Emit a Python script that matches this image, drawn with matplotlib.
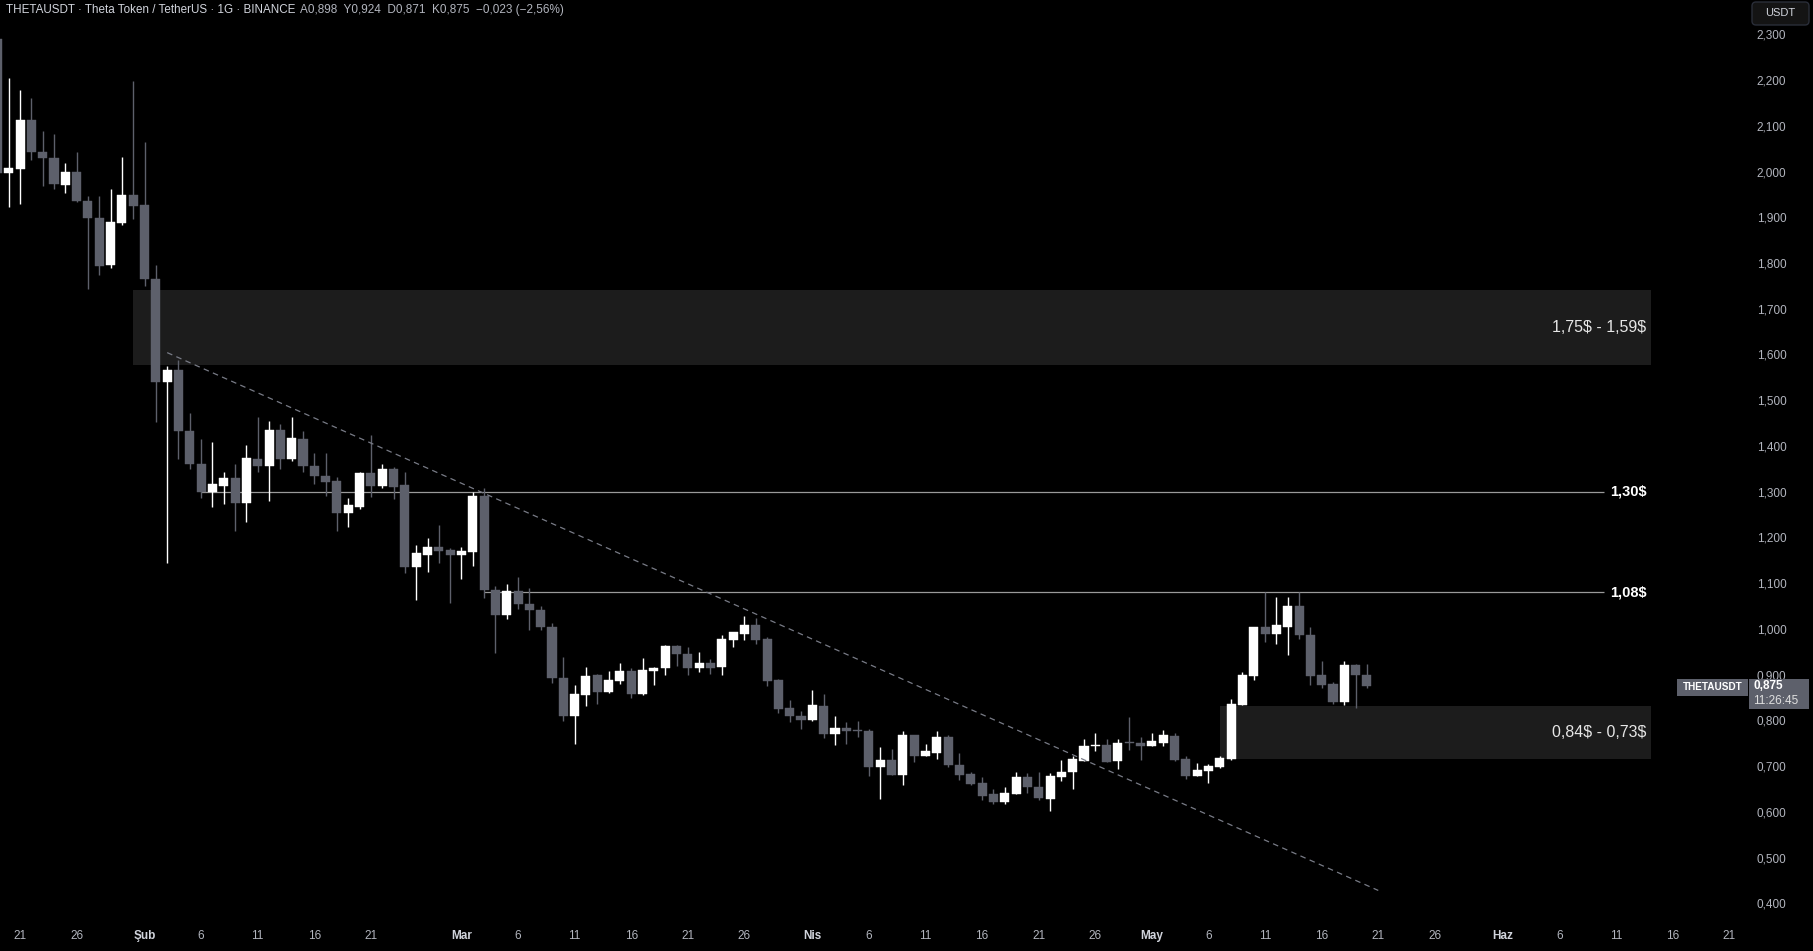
import numpy as np
import pandas as pd
import matplotlib
matplotlib.use("Agg")
import matplotlib.pyplot as plt
import matplotlib.dates as mdates
import matplotlib.transforms as mtransforms
from matplotlib.patches import Rectangle, FancyBboxPatch

# --- data: THETAUSDT daily candles ---
dates = pd.date_range("2025-01-19", "2025-05-20", freq="D")

opens = [
    2.290, 1.997, 2.006, 2.113, 2.043, 2.030, 1.971, 1.999, 1.936, 1.899, 1.796, 1.888, 1.949,
    1.927, 1.766, 1.540, 1.566, 1.433, 1.361, 1.299, 1.312, 1.330, 1.276, 1.372, 1.357, 1.435, 1.372,
    1.415, 1.357, 1.335, 1.324, 1.254, 1.267, 1.341, 1.313, 1.350, 1.315, 1.136, 1.161, 1.179, 1.172,
    1.161, 1.169, 1.291, 1.084, 1.031, 1.083, 1.055, 1.042, 1.005, 0.893, 0.810, 0.856, 0.899, 0.862,
    0.886, 0.908, 0.858, 0.908, 0.915, 0.963, 0.946, 0.915, 0.926, 0.917, 0.976, 0.989, 1.009, 0.978,
    0.888, 0.827, 0.810,
    0.801, 0.832, 0.771, 0.784, 0.778, 0.777, 0.697, 0.713, 0.681, 0.768, 0.721, 0.729, 0.764, 0.703,
    0.682, 0.663, 0.638, 0.622, 0.638, 0.677, 0.655, 0.629, 0.677, 0.688, 0.712, 0.744, 0.746, 0.710,
    0.753, 0.751,
    0.743, 0.751, 0.766, 0.716, 0.678, 0.689, 0.698, 0.716, 0.834, 0.897, 1.004, 0.989, 1.004, 1.050,
    0.987, 0.899, 0.879, 0.840, 0.921, 0.898,
]
highs = [
    2.320, 2.204, 2.178, 2.160, 2.089, 2.082, 2.019, 2.043, 1.946, 1.946, 1.962, 2.032, 2.198,
    2.065, 1.796, 1.575, 1.588, 1.472, 1.415, 1.409, 1.343, 1.361, 1.402, 1.463, 1.455, 1.448, 1.463,
    1.433, 1.385, 1.385, 1.332, 1.287, 1.343, 1.424, 1.361, 1.354, 1.343, 1.183, 1.199, 1.227, 1.176,
    1.179, 1.300, 1.308, 1.094, 1.098, 1.113, 1.090, 1.049, 1.012, 0.939, 0.877, 0.917, 0.901, 0.908,
    0.926, 0.915, 0.936, 0.917, 0.965, 0.965, 0.960, 0.950, 0.935, 0.987, 0.994, 1.027, 1.024, 0.982,
    0.890, 0.844, 0.821,
    0.867, 0.858, 0.810, 0.796, 0.799, 0.781, 0.742, 0.738, 0.777, 0.768, 0.748, 0.777, 0.768, 0.729,
    0.686, 0.676, 0.649, 0.655, 0.688, 0.684, 0.686, 0.685, 0.714, 0.723, 0.759, 0.772, 0.759, 0.759,
    0.807, 0.764,
    0.772, 0.779, 0.772, 0.723, 0.707, 0.705, 0.722, 0.847, 0.906, 1.004, 1.080, 1.070, 1.070, 1.080,
    1.003, 0.930, 0.884, 0.930, 0.923, 0.924,
]
lows = [
    1.993, 1.923, 1.930, 2.026, 1.969, 1.962, 1.954, 1.934, 1.742, 1.774, 1.790, 1.882, 1.897,
    1.750, 1.453, 1.145, 1.371, 1.350, 1.287, 1.267, 1.274, 1.213, 1.234, 1.344, 1.280, 1.350, 1.368,
    1.342, 1.317, 1.291, 1.213, 1.223, 1.263, 1.289, 1.309, 1.283, 1.123, 1.063, 1.125, 1.143, 1.057,
    1.110, 1.138, 1.068, 0.948, 1.022, 1.044, 0.998, 0.997, 0.882, 0.799, 0.749, 0.832, 0.836, 0.860,
    0.880, 0.849, 0.856, 0.877, 0.899, 0.919, 0.899, 0.906, 0.902, 0.899, 0.961, 0.976, 0.966, 0.876,
    0.815, 0.796, 0.780,
    0.799, 0.762, 0.745, 0.749, 0.764, 0.679, 0.629, 0.681, 0.659, 0.708, 0.721, 0.716, 0.697, 0.669,
    0.659, 0.625, 0.618, 0.618, 0.638, 0.640, 0.626, 0.602, 0.668, 0.649, 0.710, 0.732, 0.708, 0.694,
    0.734, 0.714,
    0.743, 0.743, 0.712, 0.672, 0.678, 0.663, 0.696, 0.713, 0.834, 0.888, 0.971, 0.966, 0.943, 0.978,
    0.877, 0.870, 0.836, 0.834, 0.826, 0.871,
]
closes = [
    1.997, 2.008, 2.113, 2.043, 2.030, 1.973, 1.999, 1.936, 1.899, 1.794, 1.890, 1.949, 1.925,
    1.766, 1.540, 1.566, 1.433, 1.361, 1.299, 1.317, 1.330, 1.276, 1.374, 1.357, 1.435, 1.372, 1.417,
    1.357, 1.335, 1.322, 1.254, 1.271, 1.341, 1.313, 1.350, 1.311, 1.136, 1.166, 1.179, 1.170, 1.161,
    1.170, 1.291, 1.084, 1.031, 1.083, 1.055, 1.042, 1.005, 0.893, 0.810, 0.858, 0.897, 0.862, 0.888,
    0.908, 0.858, 0.910, 0.915, 0.963, 0.946, 0.915, 0.926, 0.915, 0.978, 0.994, 1.009, 0.976, 0.886,
    0.825, 0.810, 0.801,
    0.834, 0.771, 0.784, 0.777, 0.777, 0.697, 0.713, 0.681, 0.768, 0.721, 0.733, 0.764, 0.703, 0.680,
    0.661, 0.635, 0.622, 0.640, 0.677, 0.655, 0.631, 0.679, 0.688, 0.716, 0.744, 0.746, 0.708, 0.751,
    0.751, 0.743,
    0.755, 0.768, 0.714, 0.679, 0.691, 0.700, 0.718, 0.836, 0.899, 1.004, 0.989, 1.009, 1.050, 0.987,
    0.897, 0.877, 0.840, 0.921, 0.898, 0.875,
]

# drawings on the chart
zone_top = [1.741, 0.832]
zone_bottom = [1.578, 0.716]
zone_start = ["2025-01-31", "2025-05-07"]
zone_labels = [r"1,75\$ - 1,59\$", r"0,84\$ - 0,73\$"]
levels = [1.30, 1.08]
level_start = ["2025-02-06", "2025-03-03"]
level_labels = [r"1,30\$", r"1,08\$"]
trend_dates = ["2025-02-03", "2025-05-21"]
trend_prices = [1.604, 0.428]

tick_dates = ["2025-01-21", "2025-01-26", "2025-02-01", "2025-02-06", "2025-02-11", "2025-02-16",
              "2025-02-21", "2025-03-01", "2025-03-06", "2025-03-11", "2025-03-16", "2025-03-21",
              "2025-03-26", "2025-04-01", "2025-04-06", "2025-04-11", "2025-04-16", "2025-04-21",
              "2025-04-26", "2025-05-01", "2025-05-06", "2025-05-11", "2025-05-16", "2025-05-21",
              "2025-05-26", "2025-06-01", "2025-06-06", "2025-06-11", "2025-06-16", "2025-06-21"]
tick_labels = ["21", "26", "Şub", "6", "11", "16", "21", "Mar", "6", "11", "16", "21", "26", "Nis",
               "6", "11", "16", "21", "26", "May", "6", "11", "16", "21", "26", "Haz", "6", "11",
               "16", "21"]
month_names = ("Şub", "Mar", "Nis", "May", "Haz")

header_name = "THETAUSDT · Theta Token / TetherUS · 1G · BINANCE"
header_ohlc = "A0,898  Y0,924  D0,871  K0,875  −0,023 (−2,56%)"
last_price = 0.875
countdown = "11:26:45"

UP = "#ffffff"
DOWN = "#5d606b"
TXT = "#b2b5be"
ZONE = "#1c1c1c"

plt.rcParams["font.family"] = ["Liberation Sans", "DejaVu Sans"]

W, H = 1813, 951
fig = plt.figure(figsize=(W / 100, H / 100), dpi=100, facecolor="black")
ax = fig.add_axes([0, 29 / H, 1745 / W, 922 / H])
ax.set_facecolor("black")
for s in ax.spines.values():
    s.set_visible(False)

x = mdates.date2num(dates)
o = np.array(opens)
h = np.array(highs)
l = np.array(lows)
c = np.array(closes)
cols = np.where(c >= o, UP, DOWN)

ax.vlines(x, l, h, colors=cols, linewidth=1.0, zorder=3)
ax.bar(x, np.maximum(np.abs(c - o), 0.0022), bottom=np.minimum(o, c), width=0.8,
       color=cols, edgecolor=cols, linewidth=0.3, zorder=3)

x0 = mdates.date2num(pd.Timestamp("2025-01-21"))
zone_end = x0 + 144.1
line_end = x0 + 139.9
label_x = x0 + 143.7

for top, bot, st, lab in zip(zone_top, zone_bottom, zone_start, zone_labels):
    xs = mdates.date2num(pd.Timestamp(st))
    ax.add_patch(Rectangle((xs, bot), zone_end - xs, top - bot, facecolor=ZONE,
                           edgecolor="none", zorder=1))
    ax.text(label_x, (top + bot) / 2, lab, color="#e6e6e6", fontsize=11.5,
            ha="right", va="center", zorder=5)

for lv, st, lab in zip(levels, level_start, level_labels):
    xs = mdates.date2num(pd.Timestamp(st))
    ax.hlines(lv, xs, line_end, colors="#9a9a9a", linewidth=0.9, zorder=2)
    ax.text(label_x, lv, lab, color="#ffffff", fontsize=10.5, fontweight="bold",
            ha="right", va="center", zorder=5)

ax.plot(mdates.date2num(pd.to_datetime(trend_dates)), trend_prices, color="#787b86",
        linewidth=0.9, linestyle=(0, (4.5, 3.5)), zorder=4)

ax.set_xlim(x0 - 1.77, x0 + 152.4)
ax.set_ylim(0.359, 2.375)

yt = np.round(np.arange(0.4, 2.31, 0.1), 1)
ax.yaxis.tick_right()
ax.set_yticks(yt)
ax.set_yticklabels([f"{v:.3f}".replace(".", ",") for v in yt])
ax.set_xticks(mdates.date2num(pd.to_datetime(tick_dates)))
ax.set_xticklabels(tick_labels)
ax.tick_params(axis="y", length=0, pad=8.5, labelsize=8.5, labelcolor=TXT)
ax.tick_params(axis="x", length=0, pad=6, labelsize=8.5, labelcolor=TXT)
for t in ax.get_xticklabels():
    if t.get_text() in month_names:
        t.set_fontweight("bold")
        t.set_color("#d1d4dc")

# header
fig.text(6 / W, 1 - 10 / H, header_name, color="#d1d4dc", fontsize=8.4, va="center", ha="left")
fig.text(300 / W, 1 - 10 / H, header_ohlc, color=TXT, fontsize=8.5, va="center", ha="left")

# price-scale labels
px = fig.dpi_scale_trans
fig.add_artist(FancyBboxPatch((1752 / 100, (H - 25) / 100), 57 / 100, 23 / 100,
                              boxstyle="round,pad=0,rounding_size=0.04", transform=px,
                              facecolor="#141414", edgecolor="#2a2e39", linewidth=1))
fig.text(1780.5 / W, 1 - 13 / H, "USDT", color="#d1d4dc", fontsize=8, ha="center", va="center")

blend = mtransforms.blended_transform_factory(fig.transFigure, ax.transData)
fig.add_artist(Rectangle((1749 / W, 0.825), 60 / W, 0.0655, transform=blend,
                         facecolor=DOWN, edgecolor="none"))
fig.add_artist(Rectangle((1677 / W, 0.853), 71 / W, 0.0375, transform=blend,
                         facecolor=DOWN, edgecolor="none"))
fig.text(1712.5 / W, 0.872, "THETAUSDT", transform=blend, color="#ffffff", fontsize=7.2,
         fontweight="bold", ha="center", va="center")
fig.text(1753 / W, last_price, f"{last_price:.3f}".replace(".", ","), transform=blend,
         color="#ffffff", fontsize=8.5, fontweight="bold", ha="left", va="center")
fig.text(1753 / W, 0.842, countdown, transform=blend, color="#e0e0e0", fontsize=8.5,
         ha="left", va="center")

fig.savefig("out.png", dpi=100, facecolor="black")
